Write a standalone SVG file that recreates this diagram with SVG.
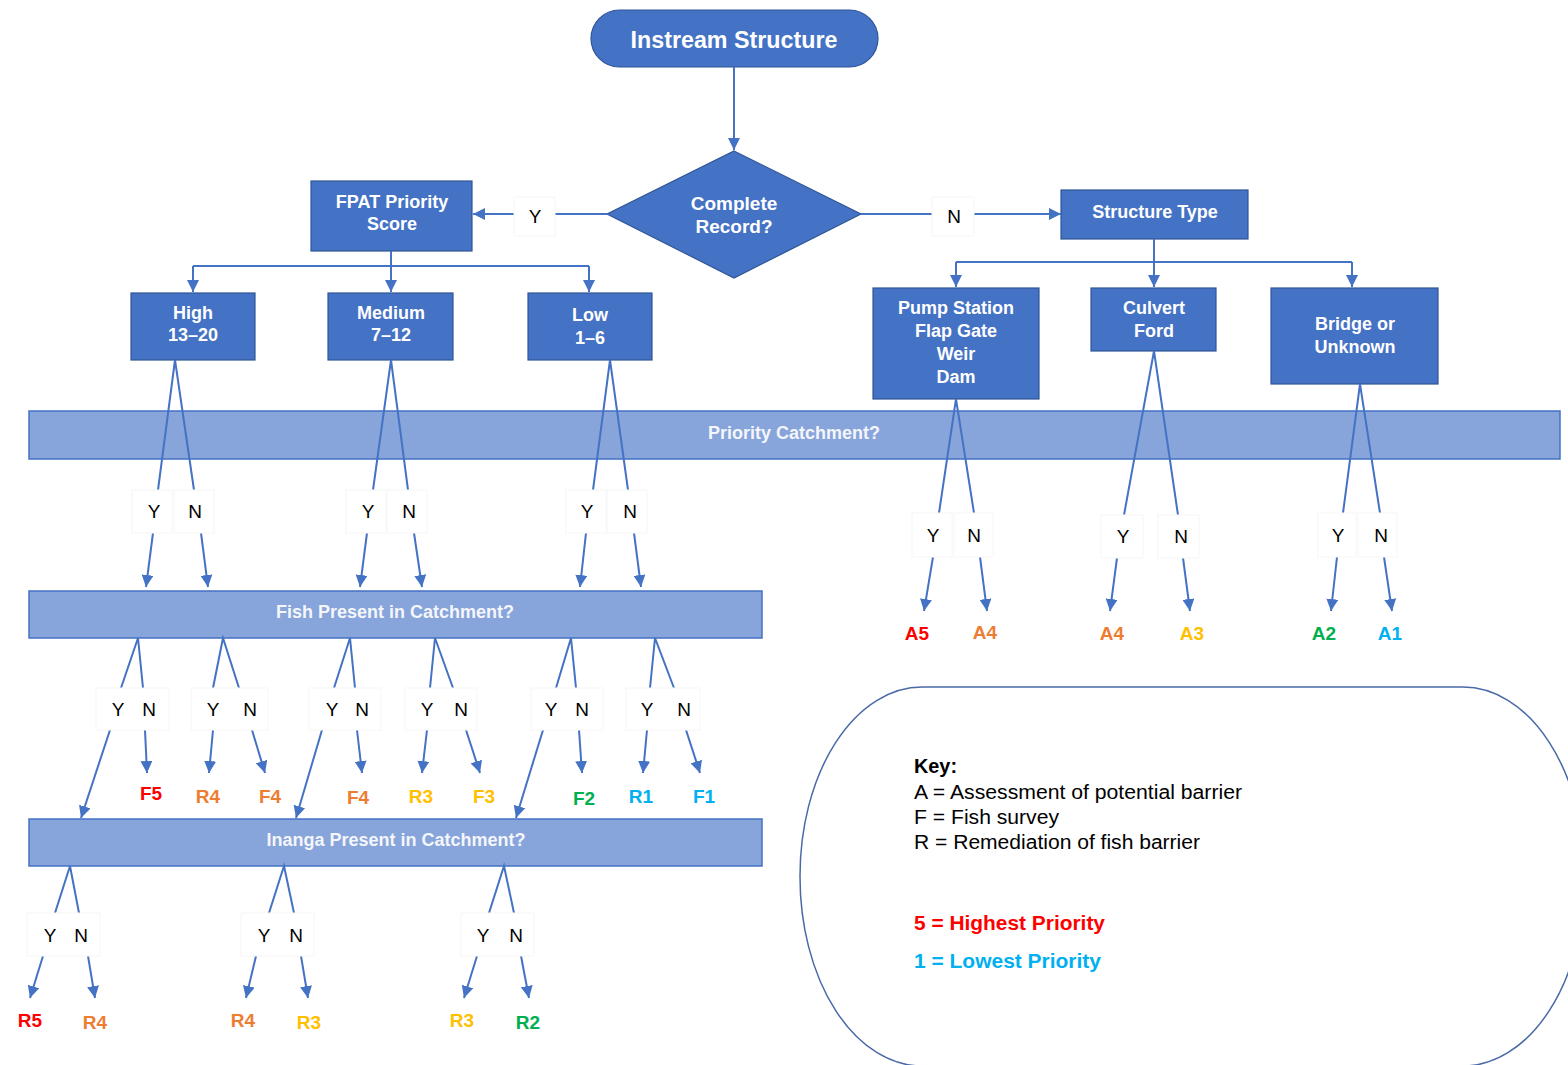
<svg xmlns="http://www.w3.org/2000/svg" width="1568" height="1065" viewBox="0 0 1568 1065">
<style>
text{font-family:"Liberation Sans",Arial,sans-serif}
.node{fill:#4472c4;stroke:#2f5597;stroke-width:1.2}
.nt{fill:#ffffff;font-weight:bold;font-size:18px;text-anchor:middle;dominant-baseline:central}
.bar{fill:#87a5da;stroke:#4472c4;stroke-width:1.5}
.bt{fill:#f4f6fb;font-weight:bold;font-size:18px;text-anchor:middle;dominant-baseline:central}
.c{stroke:#4472c4;stroke-width:2;fill:none}
.a{stroke:#4472c4;stroke-width:2;fill:none;marker-end:url(#ah)}
.yb{fill:#ffffff;stroke:#f6f6f6;stroke-width:1}
.yn{fill:#000000;font-size:19px;text-anchor:middle;dominant-baseline:central}
.lb{font-weight:bold;font-size:19px;text-anchor:middle;dominant-baseline:central}
.r5{fill:#ff0000}.o4{fill:#ed7d31}.g3{fill:#ffc000}.gr2{fill:#00b050}.c1{fill:#00b0f0}
.kt{fill:#000000;font-size:20px}
</style>
<defs>
<marker id="ah" markerWidth="12" markerHeight="12" refX="12" refY="6" orient="auto" markerUnits="userSpaceOnUse">
<path d="M0,0 L12,6 L0,12 z" fill="#4472c4"/>
</marker>
</defs>

<g id="bars">
<g id="priority-catchment"><rect class="bar" x="29" y="411" width="1531" height="48"/><text class="bt" x="794" y="433">Priority Catchment?</text></g>
<g id="fish-present"><rect class="bar" x="29" y="591" width="733" height="47"/><text class="bt" x="395" y="612">Fish Present in Catchment?</text></g>
<g id="inanga-present"><rect class="bar" x="29" y="819" width="733" height="47"/><text class="bt" x="396" y="840">Inanga Present in Catchment?</text></g>
</g>

<g id="key">
<rect x="800" y="687" width="785" height="379" rx="122" ry="189" fill="#ffffff" stroke="#4a69a8" stroke-width="1.5"/>
<text class="kt" x="914" y="773" font-weight="bold" textLength="43" lengthAdjust="spacingAndGlyphs">Key:</text>
<text class="kt" x="914" y="799" textLength="328" lengthAdjust="spacingAndGlyphs">A = Assessment of potential barrier</text>
<text class="kt" x="914" y="824" textLength="145" lengthAdjust="spacingAndGlyphs">F = Fish survey</text>
<text class="kt" x="914" y="849" textLength="286" lengthAdjust="spacingAndGlyphs">R = Remediation of fish barrier</text>
<text x="914" y="930" font-size="20" font-weight="bold" fill="#ff0000" textLength="191" lengthAdjust="spacingAndGlyphs">5 = Highest Priority</text>
<text x="914" y="968" font-size="20" font-weight="bold" fill="#00b0f0" textLength="187" lengthAdjust="spacingAndGlyphs">1 = Lowest Priority</text>
</g>

<g id="nodes">
<g id="instream-structure"><rect class="node" x="591" y="10" width="287" height="57" rx="28.5" ry="28.5"/><text class="nt" x="734" y="40" style="font-size:23px" textLength="207" lengthAdjust="spacingAndGlyphs">Instream Structure</text></g>
<g id="complete-record"><polygon class="node" points="734,151 861,214 734,278 607,214"/><text class="nt" x="734" y="203" style="font-size:19px">Complete</text><text class="nt" x="734" y="226" style="font-size:19px">Record?</text></g>
<g id="fpat"><rect class="node" x="311" y="181" width="161" height="70"/><text class="nt" x="392" y="202">FPAT Priority</text><text class="nt" x="392" y="224">Score</text></g>
<g id="structure-type"><rect class="node" x="1061" y="190" width="187" height="49"/><text class="nt" x="1155" y="212">Structure Type</text></g>
<g id="high"><rect class="node" x="131" y="293" width="124" height="67"/><text class="nt" x="193" y="313">High</text><text class="nt" x="193" y="335">13–20</text></g>
<g id="medium"><rect class="node" x="328" y="293" width="125" height="67"/><text class="nt" x="391" y="313">Medium</text><text class="nt" x="391" y="335">7–12</text></g>
<g id="low"><rect class="node" x="528" y="293" width="124" height="67"/><text class="nt" x="590" y="315">Low</text><text class="nt" x="590" y="338">1–6</text></g>
<g id="pump"><rect class="node" x="873" y="288" width="166" height="111"/><text class="nt" x="956" y="308">Pump Station</text><text class="nt" x="956" y="331">Flap Gate</text><text class="nt" x="956" y="354">Weir</text><text class="nt" x="956" y="377">Dam</text></g>
<g id="culvert"><rect class="node" x="1091" y="288" width="125" height="63"/><text class="nt" x="1154" y="308">Culvert</text><text class="nt" x="1154" y="331">Ford</text></g>
<g id="bridge"><rect class="node" x="1271" y="288" width="167" height="96"/><text class="nt" x="1355" y="324">Bridge or</text><text class="nt" x="1355" y="347">Unknown</text></g>
</g>

<g id="connectors">
<line class="a" x1="734" y1="67" x2="734" y2="150"/>
<line class="c" x1="607" y1="214" x2="555" y2="214"/>
<line class="a" x1="514" y1="214" x2="473" y2="214"/>
<line class="c" x1="861" y1="214" x2="932" y2="214"/>
<line class="a" x1="974" y1="214" x2="1061" y2="214"/>
<line class="c" x1="391" y1="251" x2="391" y2="266"/>
<line class="c" x1="193" y1="266" x2="589" y2="266"/>
<line class="a" x1="193" y1="266" x2="193" y2="292"/>
<line class="a" x1="391" y1="266" x2="391" y2="292"/>
<line class="a" x1="589" y1="266" x2="589" y2="292"/>
<line class="c" x1="1154" y1="239" x2="1154" y2="262"/>
<line class="c" x1="956" y1="262" x2="1352" y2="262"/>
<line class="a" x1="956" y1="262" x2="956" y2="287"/>
<line class="a" x1="1154" y1="262" x2="1154" y2="287"/>
<line class="a" x1="1352" y1="262" x2="1352" y2="287"/>

<polyline class="c" points="158,490 175,360 194,490"/>
<line class="a" x1="153" y1="533" x2="146" y2="587"/>
<line class="a" x1="201" y1="533" x2="208" y2="587"/>
<polyline class="c" points="373,490 391,360 408,490"/>
<line class="a" x1="367" y1="533" x2="360" y2="587"/>
<line class="a" x1="414" y1="533" x2="422" y2="587"/>
<polyline class="c" points="593,490 610,360 628,490"/>
<line class="a" x1="586" y1="533" x2="580" y2="587"/>
<line class="a" x1="634" y1="533" x2="641" y2="587"/>

<polyline class="c" points="939,513 956,399 974,513"/>
<line class="a" x1="933" y1="557" x2="924" y2="611"/>
<line class="a" x1="980" y1="557" x2="987" y2="611"/>
<polyline class="c" points="1124,515 1154,351 1178,515"/>
<line class="a" x1="1117" y1="558" x2="1110" y2="611"/>
<line class="a" x1="1183" y1="558" x2="1190" y2="611"/>
<polyline class="c" points="1343,513 1360,384 1380,513"/>
<line class="a" x1="1337" y1="557" x2="1331" y2="611"/>
<line class="a" x1="1384" y1="557" x2="1392" y2="611"/>

<polyline class="c" points="121,688 138,638 143,688"/>
<line class="a" x1="110" y1="730" x2="81" y2="818"/>
<line class="a" x1="145" y1="730" x2="147" y2="773"/>
<polyline class="c" points="213,688 223,638 239,688"/>
<line class="a" x1="213" y1="730" x2="209" y2="773"/>
<line class="a" x1="252" y1="730" x2="265" y2="773"/>
<polyline class="c" points="334,688 350,638 355,688"/>
<line class="a" x1="322" y1="730" x2="296" y2="818"/>
<line class="a" x1="357" y1="730" x2="362" y2="773"/>
<polyline class="c" points="430,688 435,638 453,688"/>
<line class="a" x1="427" y1="730" x2="422" y2="773"/>
<line class="a" x1="466" y1="730" x2="480" y2="773"/>
<polyline class="c" points="556,688 571,638 576,688"/>
<line class="a" x1="543" y1="730" x2="516" y2="818"/>
<line class="a" x1="579" y1="730" x2="582" y2="773"/>
<polyline class="c" points="650,688 655,638 674,688"/>
<line class="a" x1="647" y1="730" x2="643" y2="773"/>
<line class="a" x1="686" y1="730" x2="700" y2="773"/>

<polyline class="c" points="55,913 70,866 79,913"/>
<line class="a" x1="43" y1="956" x2="30" y2="998"/>
<line class="a" x1="88" y1="956" x2="95" y2="998"/>
<polyline class="c" points="269,913 284,866 294,913"/>
<line class="a" x1="256" y1="956" x2="246" y2="998"/>
<line class="a" x1="301" y1="956" x2="308" y2="998"/>
<polyline class="c" points="489,913 504,866 514,913"/>
<line class="a" x1="477" y1="956" x2="464" y2="998"/>
<line class="a" x1="521" y1="956" x2="529" y2="998"/>
</g>

<g id="yn-labels">
<rect class="yb" x="514" y="197" width="41" height="39"/><text class="yn" x="535" y="216">Y</text>
<rect class="yb" x="932" y="197" width="42" height="39"/><text class="yn" x="954" y="216">N</text>

<rect class="yb" x="132" y="490" width="40" height="43"/><text class="yn" x="154" y="511">Y</text>
<rect class="yb" x="174" y="490" width="40" height="43"/><text class="yn" x="195" y="511">N</text>
<rect class="yb" x="346" y="490" width="40" height="43"/><text class="yn" x="368" y="511">Y</text>
<rect class="yb" x="387" y="490" width="40" height="43"/><text class="yn" x="409" y="511">N</text>
<rect class="yb" x="566" y="490" width="40" height="43"/><text class="yn" x="587" y="511">Y</text>
<rect class="yb" x="607" y="490" width="40" height="43"/><text class="yn" x="630" y="511">N</text>

<rect class="yb" x="912" y="513" width="40" height="44"/><text class="yn" x="933" y="535">Y</text>
<rect class="yb" x="954" y="513" width="39" height="44"/><text class="yn" x="974" y="535">N</text>
<rect class="yb" x="1101" y="515" width="42" height="43"/><text class="yn" x="1123" y="536">Y</text>
<rect class="yb" x="1158" y="515" width="41" height="43"/><text class="yn" x="1181" y="536">N</text>
<rect class="yb" x="1318" y="513" width="38" height="44"/><text class="yn" x="1338" y="535">Y</text>
<rect class="yb" x="1358" y="513" width="39" height="44"/><text class="yn" x="1381" y="535">N</text>

<rect class="yb" x="96" y="688" width="73" height="42"/><text class="yn" x="118" y="709">Y</text><text class="yn" x="149" y="709">N</text>
<rect class="yb" x="191" y="688" width="77" height="42"/><text class="yn" x="213" y="709">Y</text><text class="yn" x="250" y="709">N</text>
<rect class="yb" x="309" y="688" width="72" height="42"/><text class="yn" x="332" y="709">Y</text><text class="yn" x="362" y="709">N</text>
<rect class="yb" x="405" y="688" width="72" height="42"/><text class="yn" x="427" y="709">Y</text><text class="yn" x="461" y="709">N</text>
<rect class="yb" x="531" y="688" width="72" height="42"/><text class="yn" x="551" y="709">Y</text><text class="yn" x="582" y="709">N</text>
<rect class="yb" x="626" y="688" width="74" height="42"/><text class="yn" x="647" y="709">Y</text><text class="yn" x="684" y="709">N</text>

<rect class="yb" x="27" y="913" width="73" height="43"/><text class="yn" x="50" y="935">Y</text><text class="yn" x="81" y="935">N</text>
<rect class="yb" x="241" y="913" width="73" height="43"/><text class="yn" x="264" y="935">Y</text><text class="yn" x="296" y="935">N</text>
<rect class="yb" x="461" y="913" width="73" height="43"/><text class="yn" x="483" y="935">Y</text><text class="yn" x="516" y="935">N</text>
</g>

<g id="outcomes">
<text class="lb r5" x="917" y="633">A5</text>
<text class="lb o4" x="985" y="632">A4</text>
<text class="lb o4" x="1112" y="633">A4</text>
<text class="lb g3" x="1192" y="633">A3</text>
<text class="lb gr2" x="1324" y="633">A2</text>
<text class="lb c1" x="1390" y="633">A1</text>

<text class="lb r5" x="151" y="793">F5</text>
<text class="lb o4" x="208" y="796">R4</text>
<text class="lb o4" x="270" y="796">F4</text>
<text class="lb o4" x="358" y="797">F4</text>
<text class="lb g3" x="421" y="796">R3</text>
<text class="lb g3" x="484" y="796">F3</text>
<text class="lb gr2" x="584" y="798">F2</text>
<text class="lb c1" x="641" y="796">R1</text>
<text class="lb c1" x="704" y="796">F1</text>

<text class="lb r5" x="30" y="1020">R5</text>
<text class="lb o4" x="95" y="1022">R4</text>
<text class="lb o4" x="243" y="1020">R4</text>
<text class="lb g3" x="309" y="1022">R3</text>
<text class="lb g3" x="462" y="1020">R3</text>
<text class="lb gr2" x="528" y="1022">R2</text>
</g>
</svg>
